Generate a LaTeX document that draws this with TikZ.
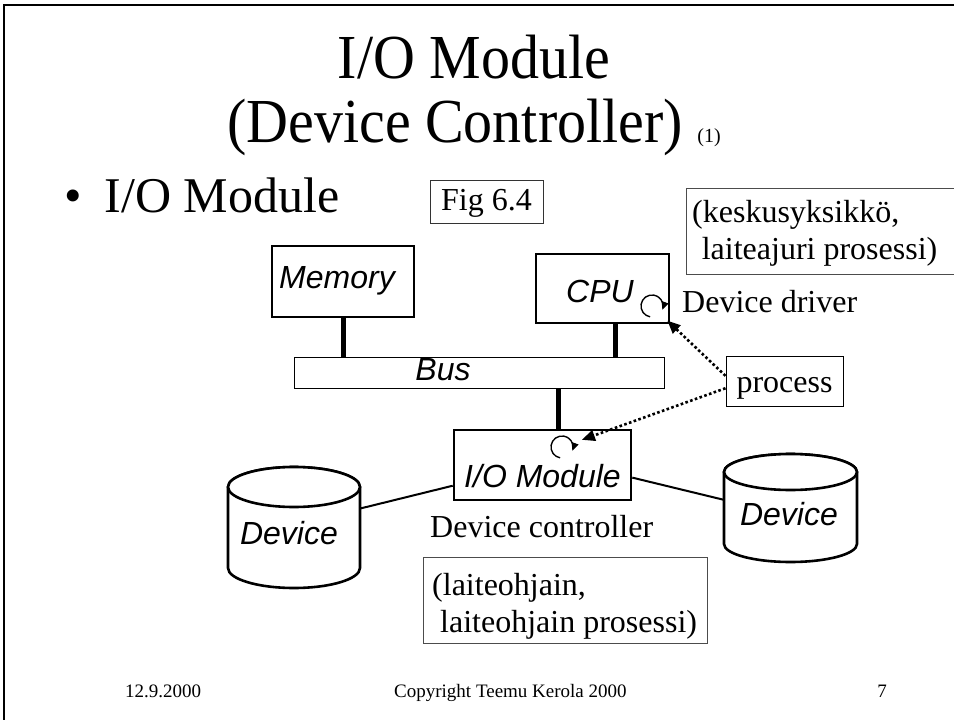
\documentclass[tikz,border=0pt]{standalone}
\usepackage{fontspec}
\setmainfont{Liberation Serif}
\newfontfamily\arialfont{Liberation Sans}
\usetikzlibrary{arrows.meta}
\begin{document}
\begin{tikzpicture}[x=1pt, y=-1pt,
  hwbox/.style={draw, line width=2.6pt, fill=white, inner sep=0pt, font=\arialfont\itshape\fontsize{32}{38}\selectfont},
  busbox/.style={draw, line width=1pt, fill=white, inner sep=0pt, font=\arialfont\itshape\fontsize{32}{38}\selectfont},
  cylbody/.style={inner sep=0pt, font=\arialfont\itshape\fontsize{32}{38}\selectfont},
  cylline/.style={line width=2.6pt, fill=white},
  busline/.style={line width=5pt},
  devlink/.style={line width=2pt},
  labeltext/.style={inner sep=0pt, font=\fontsize{32}{37}\selectfont},
  notebox/.style={draw=black!70, line width=1pt, inner sep=0pt},
  figbox/.style={draw=black!80, line width=1pt, inner sep=0pt, font=\fontsize{32}{37}\selectfont},
  procbox/.style={draw, line width=1pt, inner sep=0pt, font=\fontsize{32}{37}\selectfont},
  procmark/.style={circle, inner sep=0pt, minimum size=22pt},
  markarc/.style={line width=1.4pt, -{Triangle[length=8pt,width=7pt]}},
  procarrow/.style={line width=2.6pt, dash pattern=on 2.6pt off 2.4pt, -{Triangle[length=13pt,width=11pt]}, shorten >=10pt},
  foot/.style={inner sep=0pt, font=\fontsize{19}{22}\selectfont},
  titletext/.style={inner sep=0pt, font=\fontsize{58}{60}\selectfont}
]
\useasboundingbox (0,0) rectangle (954,720);
\fill[white] (0,0) rectangle (954,720);
% slide frame
\draw[line width=2pt] (4,720) -- (4,5) -- (954,5);

% titles
\node[titletext, anchor=base] (title1) at (474,78) {\scalebox{1}[1.08]{I/O Module}};
\node[titletext, anchor=base] (title2) at (474,142) {\scalebox{1}[1.08]{(Device Controller)} {\fontsize{20}{24}\selectfont(1)}};
\node[inner sep=0pt, anchor=base west, font=\fontsize{50}{54}\selectfont] (bullet) at (64,212) {•\hspace{23pt}I/O Module};

% note boxes
\node[figbox, minimum width=113pt, minimum height=43pt, text height=17pt, text depth=0pt] (fig) at (486.5,201.5) {Fig 6.4};
\node[notebox, anchor=north west, minimum width=300pt, minimum height=86pt] (kbox) at (686,188) {};
\node[labeltext, anchor=north west, align=left] (ktext) at (692,200) {(keskusyksikkö,\\\hspace*{.3em}laiteajuri prosessi)};
\node[notebox, anchor=north west, minimum width=284pt, minimum height=86pt] (lbox) at (423,557) {};
\node[labeltext, anchor=north west, align=left] (ltext) at (432,573) {(laiteohjain,\\\hspace*{.25em}laiteohjain prosessi)};

% hardware
\node[hwbox, minimum width=142pt, minimum height=71pt, text height=20pt, text depth=7pt] (mem) at (343,281.5) {Memory\hspace*{12pt}};
\node[hwbox, minimum width=133pt, minimum height=69pt, text height=27pt, text depth=0pt] (cpu) at (602.5,288.5) {CPU\hspace*{5pt}};
\node[busbox, minimum width=370pt, minimum height=31pt, text height=15pt, text depth=0pt] (bus) at (479,372.5) {Bus\hspace*{72pt}};
\node[hwbox, minimum width=177pt, minimum height=70pt, text height=44pt, text depth=0pt] (io) at (542.5,465) {I/O Module};

% cylinders
\filldraw[cylline] (228,487) -- (228,568) arc[start angle=180, end angle=0, x radius=66, y radius=20] -- (360,487) arc[start angle=0, end angle=-180, x radius=66, y radius=20] -- cycle;
\draw[cylline] (294,487) ellipse[x radius=66, y radius=20];
\node[cylbody, minimum width=132pt, minimum height=81pt, text height=33pt, text depth=0pt] (devL) at (294,527.5) {Device\hspace*{10pt}};
\filldraw[cylline] (724,472) -- (724,544) arc[start angle=180, end angle=0, x radius=66.5, y radius=18] -- (857,472) arc[start angle=0, end angle=-180, x radius=66.5, y radius=18] -- cycle;
\draw[cylline] (790.5,472) ellipse[x radius=66.5, y radius=18];
\node[cylbody, minimum width=133pt, minimum height=72pt, text height=34pt, text depth=0pt] (devR) at (790.5,508) {Device\hspace*{3pt}};

% connectors
\draw[busline] (mem.south) -- (mem.south |- bus.north);
\draw[busline] (cpu.-70) -- (cpu.-70 |- bus.north);
\draw[busline] (io.66) -- (io.66 |- bus.south);
\draw[devlink] (devL.16) -- (io.193);
\draw[devlink] (io.-8) -- (devR.173);

% labels
\node[labeltext, anchor=base west] (drv) at (682,312) {Device driver};
\node[labeltext, anchor=base west] (ctl) at (430,537) {Device controller};
\node[procbox, minimum width=117pt, minimum height=50pt, text height=22pt, text depth=0pt] (proc) at (784.5,381) {process};

% process markers
\node[procmark] (cpuproc) at (652,306) {};
\draw[markarc] (cpuproc) ++(100:11) arc[start angle=100, end angle=380, radius=11];
\node[procmark] (ioproc) at (562,447) {};
\draw[markarc] (ioproc) ++(100:11) arc[start angle=100, end angle=380, radius=11];
\draw[procarrow] (proc.175) -- (cpuproc);
\draw[procarrow] (proc.187) -- (ioproc);

% footer
\node[foot, anchor=base west] (date) at (125,697) {12.9.2000};
\node[foot, anchor=base west] (copy) at (394,697) {Copyright Teemu Kerola 2000};
\node[foot, anchor=base east] (page) at (887,697) {7};
\end{tikzpicture}
\end{document}
